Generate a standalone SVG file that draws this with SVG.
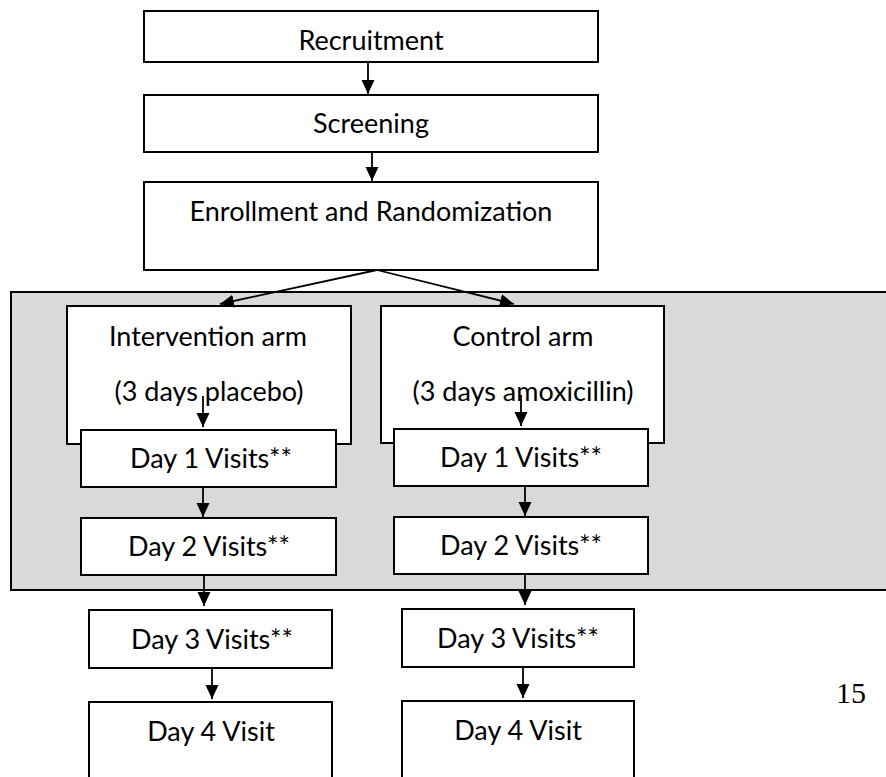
<svg xmlns="http://www.w3.org/2000/svg" width="886" height="777" viewBox="0 0 886 777">
<style>
.box{fill:#fff;stroke:#000;stroke-width:2}
.t{font-family:Lato,"Open Sans",sans-serif;font-size:27px;fill:#000;text-anchor:middle}
.c{stroke:#000;stroke-width:1.8;fill:none;marker-end:url(#ah)}
</style>
<defs>
<marker id="ah" markerWidth="14" markerHeight="14" viewBox="0 0 14 14" refX="14" refY="7" markerUnits="userSpaceOnUse" orient="auto">
<path d="M0,0.5 L14,7 L0,13.5 Z" fill="#000"/>
</marker>
</defs>
<rect x="0" y="0" width="886" height="777" fill="#fff"/>
<rect id="panel" x="11" y="292" width="880" height="298" fill="#d9d9d9" stroke="#000" stroke-width="2"/>
<g id="recruitment"><rect class="box" x="144" y="11" width="454" height="51"/><text class="t" x="371" y="50">Recruitment</text></g>
<g id="screening"><rect class="box" x="144" y="95" width="454" height="57"/><text class="t" x="371" y="133">Screening</text></g>
<g id="enrollment"><rect class="box" x="144" y="182" width="454" height="88"/><text class="t" x="371" y="221">Enrollment and Randomization</text></g>
<g id="intervention"><rect class="box" x="67" y="306" width="284" height="138"/><text class="t" x="208" y="346">Intervention arm</text><text class="t" x="209" y="401">(3 days placebo)</text></g>
<g id="control"><rect class="box" x="381" y="306" width="283" height="137"/><text class="t" x="523" y="346">Control arm</text><text class="t" x="523" y="401">(3 days amoxicillin)</text></g>
<g id="i-day1"><rect class="box" x="81" y="430" width="255" height="57"/><text class="t" x="211" y="468">Day 1 Visits**</text></g>
<g id="c-day1"><rect class="box" x="394" y="429" width="254" height="57"/><text class="t" x="521" y="467">Day 1 Visits**</text></g>
<g id="i-day2"><rect class="box" x="81" y="518" width="255" height="57"/><text class="t" x="209" y="556">Day 2 Visits**</text></g>
<g id="c-day2"><rect class="box" x="394" y="517" width="254" height="57"/><text class="t" x="521" y="555">Day 2 Visits**</text></g>
<g id="i-day3"><rect class="box" x="89" y="610" width="243" height="58"/><text class="t" x="212" y="649">Day 3 Visits**</text></g>
<g id="c-day3"><rect class="box" x="402" y="609" width="232" height="58"/><text class="t" x="518" y="648">Day 3 Visits**</text></g>
<g id="i-day4"><rect class="box" x="89" y="702" width="243" height="90"/><text class="t" x="211" y="741">Day 4 Visit</text></g>
<g id="c-day4"><rect class="box" x="402" y="701" width="232" height="90"/><text class="t" x="518" y="740">Day 4 Visit</text></g>
<g id="connectors">
<line class="c" x1="368" y1="62" x2="368" y2="94"/>
<line class="c" x1="372" y1="152" x2="372" y2="181"/>
<line class="c" x1="377" y1="270" x2="220" y2="304"/>
<line class="c" x1="377" y1="270" x2="514" y2="304"/>
<line class="c" x1="203" y1="396" x2="203" y2="427"/>
<line class="c" x1="521" y1="395" x2="521" y2="426"/>
<line class="c" x1="203" y1="487" x2="203" y2="517"/>
<line class="c" x1="525" y1="486" x2="525" y2="516"/>
<line class="c" x1="204" y1="575" x2="204" y2="606"/>
<line class="c" x1="525" y1="574" x2="525" y2="605"/>
<line class="c" x1="212" y1="668" x2="212" y2="699"/>
<line class="c" x1="523" y1="667" x2="523" y2="698"/>
</g>
<text x="836" y="703" font-family="'Liberation Serif',serif" font-size="30" fill="#000">15</text>
</svg>
